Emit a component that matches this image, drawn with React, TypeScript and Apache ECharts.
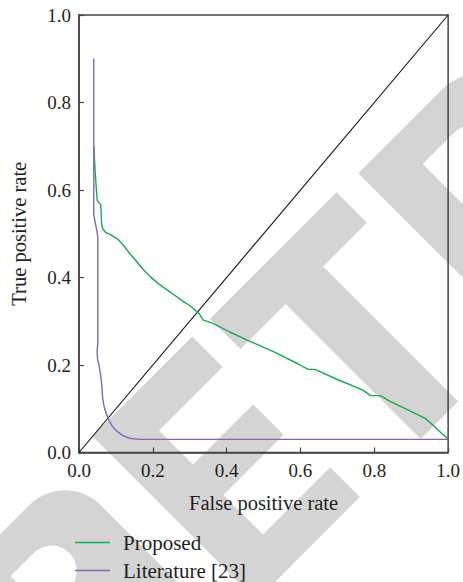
import React, { useEffect, useRef } from "react";
import * as echarts from "echarts";

// False positive rate / true positive rate
const proposedFpr = [0.040,0.044,0.049,0.055,0.059,0.060,0.061,0.064,0.072,0.085,0.095,0.105,0.120,0.140,0.153,0.172,0.193,0.215,0.233,0.258,0.283,0.300,0.314,0.325,0.336,0.363,0.407,0.456,0.528,0.590,0.621,0.639,0.697,0.768,0.790,0.817,0.840,0.902,0.938,0.964,0.982,1.0];
const proposedTpr = [0.700,0.640,0.577,0.570,0.566,0.550,0.525,0.512,0.503,0.498,0.493,0.488,0.474,0.452,0.440,0.420,0.402,0.386,0.375,0.360,0.345,0.336,0.326,0.318,0.303,0.295,0.276,0.257,0.230,0.204,0.190,0.190,0.168,0.143,0.130,0.130,0.118,0.093,0.078,0.059,0.044,0.031];

const literatureFpr = [0.040,0.040,0.040,0.044,0.049,0.051,0.051,0.051,0.049,0.050,0.054,0.059,0.062,0.064,0.068,0.074,0.082,0.092,0.105,0.120,0.140,0.165,1.0];
const literatureTpr = [0.900,0.700,0.545,0.525,0.505,0.490,0.350,0.250,0.232,0.215,0.200,0.175,0.150,0.125,0.105,0.088,0.072,0.058,0.047,0.038,0.032,0.030,0.030];

const diagonalX = [0, 1];
const diagonalY = [0, 1];

const seriesNames = ["Proposed", "Literature [23]"];
const xName = "False positive rate";
const yName = "True positive rate";

const SERIF = "'Liberation Serif', 'Times New Roman', serif";
const TEXT = "#231f20";
const AXIS = "#444444";
const GRAY = "#d4d4d4";
const GREEN = "#19a84f";
const PURPLE = "#8066b9";

function zip(xs: number[], ys: number[]) {
  return xs.map((x, i) => [x, ys[i]]);
}

// Watermark rectangle in a 45°-rotated frame
function wm(u0: number, u1: number, v0: number, v1: number, r: number[] = [0, 0, 0, 0], fill = GRAY) {
  return {
    type: "rect",
    z: -10,
    silent: true,
    shape: { x: u0, y: v0, width: u1 - u0, height: v1 - v0, r },
    style: { fill },
  };
}

function legendFor(name: string, top: number) {
  return {
    data: [name],
    orient: "horizontal",
    left: 75,
    top,
    padding: 0,
    icon: "rect",
    itemWidth: 35,
    itemHeight: 1.5,
    textStyle: {
      color: TEXT,
      fontFamily: SERIF,
      fontSize: 21,
      padding: [0, 0, 0, 8],
    },
  };
}

export default function App() {
  const ref = useRef<HTMLDivElement>(null);
  useEffect(() => {
    if (!ref.current) return;
    const chart = echarts.init(ref.current, null, { renderer: "svg" });
    const makeLabel = () => ({
      color: TEXT,
      fontFamily: SERIF,
      fontSize: 19,
      margin: 8,
      formatter: (v: number) => v.toFixed(1),
    });
    chart.setOption({
      animation: false,
      textStyle: { fontFamily: SERIF, color: TEXT },
      grid: {
        left: 76,
        right: 13,
        top: 15,
        bottom: 129.5,
        show: true,
        borderColor: AXIS,
        borderWidth: 1.5,
      },
      graphic: [
        {
          type: "group",
          x: 0,
          y: 0,
          rotation: Math.PI / 4,
          z: -10,
          silent: true,
          children: [
            // R
            wm(-455, -400, 378, 620),
            wm(-455, -286, 378, 560, [0, 50, 0, 0]),
            wm(-400, -342, 415, 465, [0, 26, 26, 0], "#ffffff"),
            // E
            wm(-243, -192, 374, 606),
            wm(-243, -102, 374, 417),
            wm(-243, -107, 465, 508),
            wm(-243, -97, 564, 606),
            // T
            wm(-77, 102, 374, 417),
            wm(-13, 40, 417, 608),
            // R
            wm(131, 183, 376, 620),
            wm(131, 305, 376, 510, [0, 55, 55, 0]),
            wm(183, 255, 415, 472, [0, 28, 28, 0], "#ffffff"),
          ],
        },
      ],
      legend: [legendFor(seriesNames[0], 532), legendFor(seriesNames[1], 560)],
      xAxis: {
        type: "value",
        min: 0,
        max: 1,
        interval: 0.2,
        name: xName,
        nameLocation: "middle",
        nameGap: 40,
        nameTextStyle: { color: TEXT, fontFamily: SERIF, fontSize: 20.5 },
        axisLine: { show: true, lineStyle: { color: AXIS, width: 1.5 } },
        axisTick: { show: true, inside: true, length: 5, lineStyle: { color: AXIS, width: 1.2 } },
        splitLine: { show: false },
        axisLabel: makeLabel(),
      },
      yAxis: {
        type: "value",
        min: 0,
        max: 1,
        interval: 0.2,
        name: yName,
        nameLocation: "middle",
        nameGap: 50,
        nameTextStyle: { color: TEXT, fontFamily: SERIF, fontSize: 20.5 },
        axisLine: { show: true, lineStyle: { color: AXIS, width: 1.5 } },
        axisTick: { show: true, inside: true, length: 5, lineStyle: { color: AXIS, width: 1.2 } },
        splitLine: { show: false },
        axisLabel: makeLabel(),
      },
      series: [
        {
          name: "diagonal",
          type: "line",
          data: zip(diagonalX, diagonalY),
          symbol: "none",
          lineStyle: { color: "#111111", width: 1.1 },
          z: 2,
        },
        {
          name: seriesNames[0],
          type: "line",
          data: zip(proposedFpr, proposedTpr),
          symbol: "none",
          itemStyle: { color: GREEN },
          lineStyle: { color: GREEN, width: 1.4 },
          z: 3,
        },
        {
          name: seriesNames[1],
          type: "line",
          data: zip(literatureFpr, literatureTpr),
          symbol: "none",
          itemStyle: { color: PURPLE },
          lineStyle: { color: PURPLE, width: 1.4 },
          z: 4,
        },
      ],
    });
    return () => chart.dispose();
  }, []);
  return (
    <div
      ref={ref}
      style={{ position: "absolute", left: 0, top: 0, width: 463, height: 582 }}
    />
  );
}
